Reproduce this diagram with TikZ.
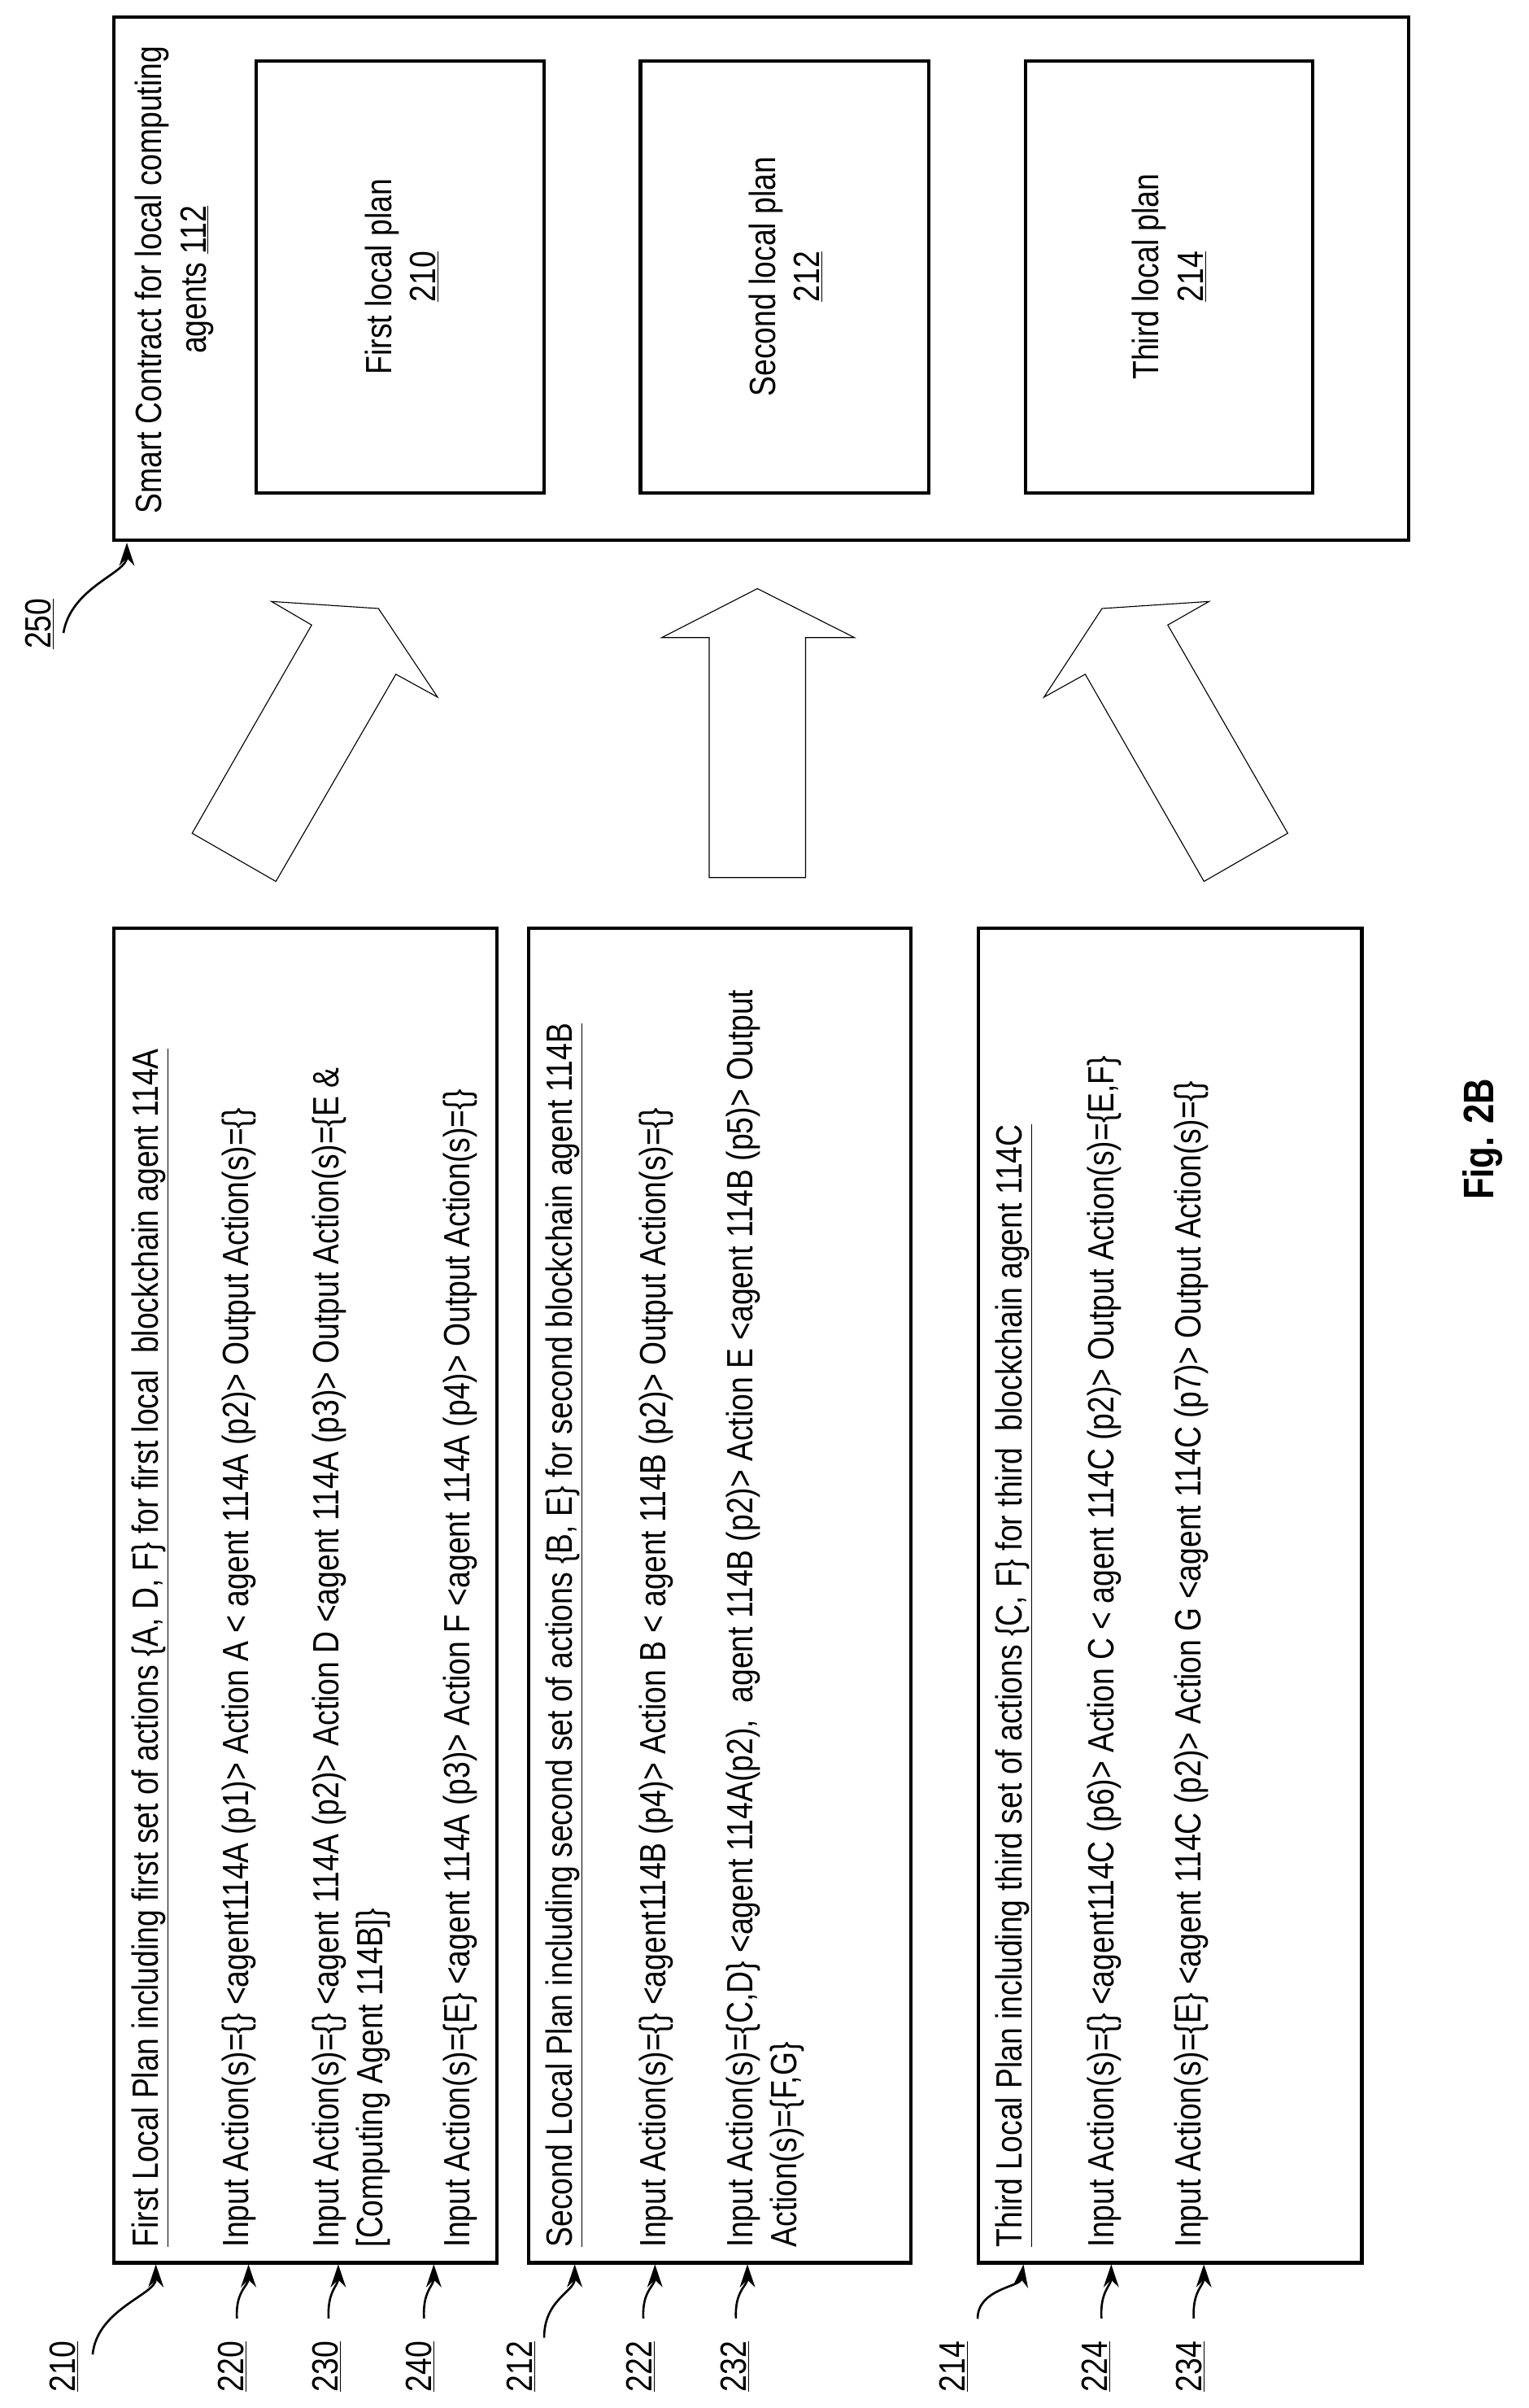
\documentclass[tikz,border=0pt]{standalone}
\usepackage{fontspec}
\setmainfont[FakeStretch=0.83]{Liberation Sans}
\usetikzlibrary{arrows.meta}
\newcommand{\fs}{\fontsize{24}{29}\selectfont}
\begin{document}
\begin{tikzpicture}[x=1bp,y=-1bp,
  box/.style={draw,line width=2.2bp},
  rot/.style={rotate=90,anchor=north west,inner sep=0pt,font=\fs,align=left},
  lab/.style={rotate=90,inner sep=0pt,font=\fs},
  ctr/.style={rotate=90,inner sep=0pt,font=\fs,align=center},
  blk/.style={draw,line width=0.6bp,line join=miter},
  ref/.style={-{Stealth[length=15bp,width=10bp]},line width=1.4bp}]
\useasboundingbox (0,0) rectangle (1000,1575);
% right smart contract box
\draw[box] (74.6,11.4) rectangle (921.5,353.5);
\node[ctr] (sc) at (114,183) {Smart Contract for local computing\\agents \underline{112}};
\draw[box] (167.7,40) rectangle (355.8,322.5);
\draw[box] (419,40) rectangle (607.7,322.5);
\draw[box] (670.9,40) rectangle (859,322.5);
\node[ctr] (p1) at (263,181) {First local plan\\\underline{210}};
\node[ctr] (p2) at (514,181) {Second local plan\\\underline{212}};
\node[ctr] (p3) at (765,181) {Third local plan\\\underline{214}};
% block arrows
\draw[blk] (125.7,545)--(203.9,408.8)--(177.6,393.4)--(247.6,398)--(286.3,456)--(259,441)--(180.5,576.5)--cycle;
\draw[blk] (464,574)--(464,417)--(433,417)--(495.5,385)--(559,417)--(527,417)--(527,574)--cycle;
\draw[blk] (842.5,545)--(764,408.8)--(791,393.4)--(721,398)--(683,456)--(710,441)--(787.7,576.5)--cycle;
% left boxes
\draw[box] (74.6,607) rectangle (325,1480);
\draw[box] (346,607) rectangle (596,1480);
\draw[box] (640,607) rectangle (891,1480);
\node[rot] (t210) at (86,1470) {\underline{First Local Plan including first set of actions \{A, D, F\} for first local\ \ blockchain agent 114A}};
\node[rot] (t220) at (145,1470) {Input Action(s)=\{\} <agent114A (p1)> Action A < agent 114A (p2)> Output Action(s)=\{\}};
\node[rot] (t230) at (204,1470) {Input Action(s)=\{\} <agent 114A (p2)> Action D <agent 114A (p3)> Output Action(s)=\{E \&\\{}[Computing Agent 114B]\}};
\node[rot] (t240) at (290,1470) {Input Action(s)=\{E\} <agent 114A (p3)> Action F <agent 114A (p4)> Output Action(s)=\{\}};
\node[rot] (t212) at (357,1470) {\underline{Second Local Plan including second set of actions \{B, E\} for second blockchain agent 114B}};
\node[rot] (t222) at (418,1470) {Input Action(s)=\{\} <agent114B (p4)> Action B < agent 114B (p2)> Output Action(s)=\{\}};
\node[rot] (t232) at (475,1470) {Input Action(s)=\{C,D\} <agent 114A(p2),\ \ agent 114B (p2)> Action E <agent 114B (p5)> Output\\Action(s)=\{F,G\}};
\node[rot] (t214) at (651,1470) {\underline{Third Local Plan including third set of actions \{C, F\} for third\ \ blockchain agent 114C}};
\node[rot] (t224) at (711,1470) {Input Action(s)=\{\} <agent114C (p6)> Action C < agent 114C (p2)> Output Action(s)=\{E,F\}};
\node[rot] (t234) at (768,1470) {Input Action(s)=\{E\} <agent 114C (p2)> Action G <agent 114C (p7)> Output Action(s)=\{\}};
% reference labels
\foreach \n/\x in {210/42,220/152,230/214,240/275,212/341,222/419,232/481,214/624,224/717,234/779}
  \node[lab] (l\n) at (\x,1548) {\underline{\n}};
\node[lab] (l250) at (26,408) {\underline{250}};
% reference arrows
\coordinate (s210) at (60.6,1540); \coordinate (e210) at (102,1481);
\coordinate (s212) at (356,1529); \coordinate (e212) at (376,1481);
\coordinate (s214) at (639.6,1516.7); \coordinate (e214) at (669.6,1481);
\draw[ref] (s210) .. controls +(3,-30) and +(0,20) .. (e210);
\draw[ref] (s212) .. controls +(0,-25) and +(0,18) .. (e212);
\draw[ref] (s214) .. controls +(0,-20) and +(-2,15) .. (e214);
\foreach \n/\a/\b in {220/155/162.6,230/215/221.3,240/277.4/283.8,222/420.9/428.5,232/481.5/489,224/720.6/727,234/781/787.6}{
  \coordinate (s\n) at (\a,1516.4); \coordinate (e\n) at (\b,1481);
  \draw[ref] (s\n) .. controls +(-1,-18) and +(0,14) .. (e\n);}
\coordinate (s250) at (41.5,414); \coordinate (e250) at (83,355);
\draw[ref] (s250) .. controls +(5,-30) and +(0,20) .. (e250);
% figure label
\node[rotate=90,inner sep=0pt,font=\fontsize{28}{32}\selectfont\bfseries] (fig) at (970,745) {Fig. 2B};
\end{tikzpicture}
\end{document}
